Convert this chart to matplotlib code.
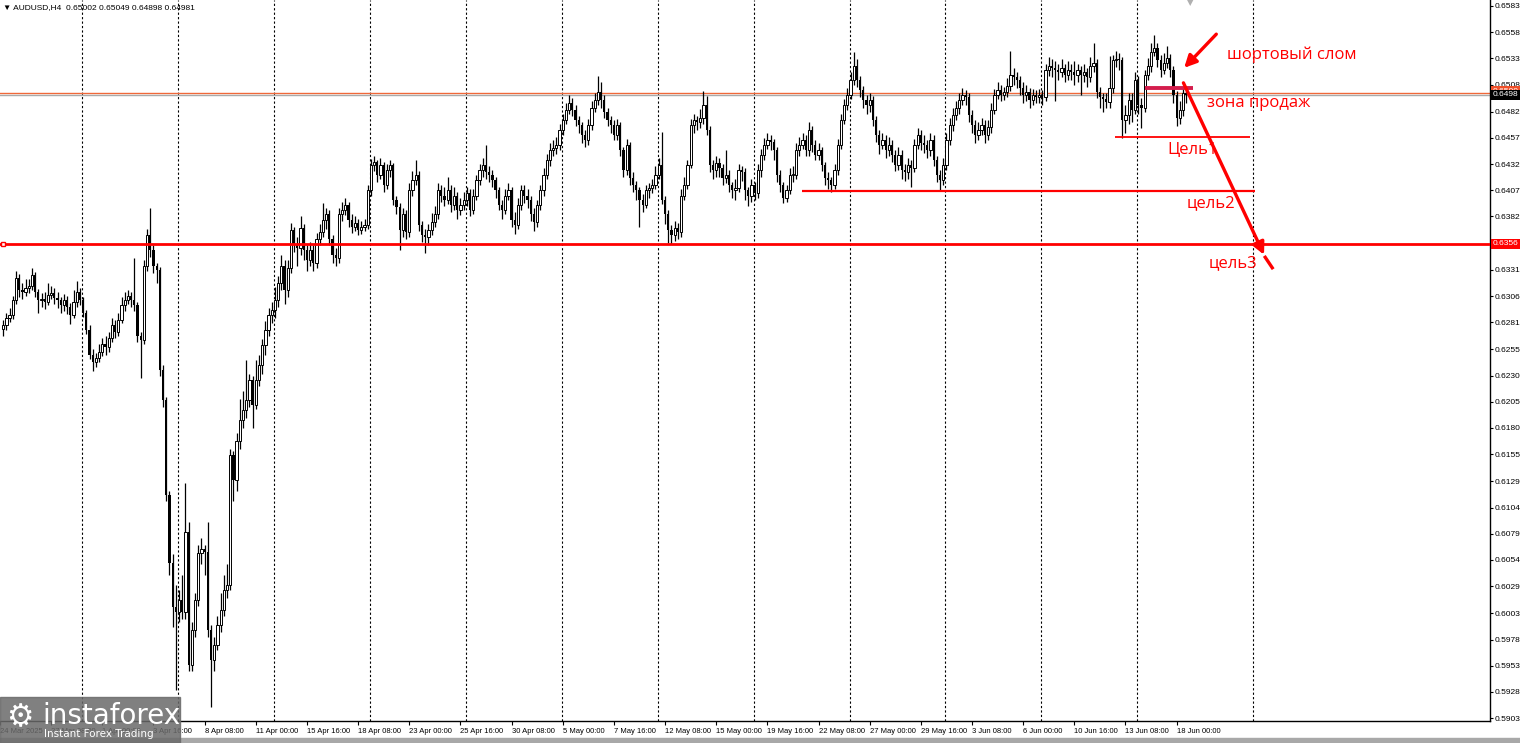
import numpy as np
import matplotlib
matplotlib.use('Agg')
import matplotlib.pyplot as plt
from matplotlib.patches import Rectangle
import matplotlib.transforms as mtransforms

# AUDUSD H4, prices in pips (x 1e-4)
first_open = 6275
closes = [
	6278, 6285, 6288, 6302, 6323, 6312, 6310, 6314, 6316, 6326,
	6310, 6302, 6303, 6300, 6307, 6309, 6304, 6302, 6297, 6302,
	6296, 6288, 6300, 6310, 6302, 6290, 6274, 6250, 6243, 6247,
	6253, 6260, 6257, 6266, 6278, 6272, 6283, 6297, 6302, 6306,
	6302, 6297, 6268, 6264, 6335, 6364, 6350, 6335, 6331, 6235,
	6207, 6116, 6051, 6009, 6004, 6016, 6004, 6081, 5954, 5987,
	6016, 6061, 6064, 6062, 5987, 5958, 5973, 5992, 6006, 6025,
	6030, 6154, 6130, 6168, 6188, 6197, 6207, 6226, 6202, 6226,
	6240, 6259, 6274, 6288, 6293, 6302, 6318, 6335, 6312, 6333,
	6369, 6355, 6352, 6371, 6350, 6340, 6350, 6338, 6360, 6367,
	6379, 6384, 6360, 6345, 6342, 6384, 6388, 6393, 6379, 6372,
	6376, 6369, 6372, 6374, 6407, 6431, 6434, 6422, 6431, 6412,
	6426, 6431, 6398, 6391, 6369, 6384, 6367, 6407, 6417, 6422,
	6374, 6364, 6362, 6369, 6377, 6384, 6407, 6402, 6398, 6407,
	6393, 6402, 6388, 6393, 6398, 6404, 6388, 6402, 6417, 6426,
	6431, 6424, 6422, 6417, 6407, 6393, 6388, 6402, 6407, 6379,
	6374, 6393, 6407, 6402, 6398, 6384, 6377, 6393, 6407, 6422,
	6436, 6445, 6447, 6450, 6465, 6474, 6484, 6490, 6484, 6474,
	6469, 6460, 6455, 6469, 6486, 6493, 6501, 6493, 6482, 6474,
	6469, 6460, 6469, 6445, 6426, 6450, 6419, 6412, 6407, 6398,
	6393, 6407, 6409, 6412, 6422, 6431, 6398, 6384, 6369, 6364,
	6371, 6367, 6402, 6412, 6431, 6469, 6474, 6472, 6476, 6488,
	6465, 6431, 6426, 6433, 6428, 6419, 6422, 6412, 6407, 6409,
	6426, 6424, 6407, 6402, 6412, 6404, 6426, 6441, 6450, 6455,
	6453, 6445, 6422, 6412, 6400, 6407, 6422, 6422, 6445, 6450,
	6455, 6445, 6465, 6450, 6441, 6445, 6431, 6419, 6417, 6412,
	6426, 6450, 6474, 6488, 6498, 6512, 6526, 6512, 6503, 6493,
	6488, 6493, 6474, 6460, 6450, 6455, 6445, 6450, 6441, 6431,
	6441, 6426, 6424, 6431, 6428, 6450, 6460, 6452, 6450, 6445,
	6455, 6436, 6422, 6417, 6431, 6455, 6469, 6479, 6486, 6493,
	6498, 6496, 6479, 6469, 6460, 6465, 6469, 6460, 6467, 6484,
	6498, 6503, 6498, 6501, 6507, 6517, 6515, 6512, 6505, 6498,
	6501, 6493, 6498, 6496, 6498, 6496, 6522, 6526, 6524, 6522,
	6520, 6524, 6517, 6522, 6520, 6517, 6522, 6517, 6520, 6515,
	6526, 6529, 6501, 6496, 6494, 6491, 6505, 6531, 6532, 6531,
	6474, 6479, 6493, 6484, 6512, 6488, 6486, 6517, 6526, 6539,
	6543, 6531, 6522, 6529, 6533, 6522, 6498, 6476, 6484, 6500,
	6498,
]
highs = [
	6283, 6290, 6295, 6306, 6330, 6327, 6318, 6322, 6322, 6333,
	6329, 6313, 6309, 6310, 6318, 6316, 6314, 6310, 6305, 6308,
	6306, 6299, 6312, 6320, 6314, 6305, 6293, 6278, 6255, 6252,
	6260, 6266, 6268, 6272, 6285, 6283, 6290, 6305, 6310, 6312,
	6310, 6342, 6300, 6272, 6340, 6370, 6390, 6355, 6338, 6334,
	6240, 6210, 6120, 6060, 6030, 6025, 6040, 6127, 6090, 5995,
	6022, 6068, 6075, 6068, 6090, 5992, 5980, 6000, 6022, 6040,
	6050, 6160, 6158, 6175, 6208, 6215, 6245, 6232, 6230, 6245,
	6250, 6265, 6282, 6295, 6300, 6315, 6325, 6345, 6340, 6340,
	6376, 6372, 6362, 6382, 6375, 6355, 6358, 6355, 6366, 6375,
	6395, 6390, 6388, 6364, 6352, 6390, 6396, 6400, 6396, 6384,
	6382, 6380, 6378, 6380, 6412, 6437, 6440, 6436, 6438, 6434,
	6432, 6436, 6433, 6402, 6395, 6390, 6388, 6414, 6425, 6436,
	6425, 6378, 6370, 6375, 6385, 6392, 6414, 6412, 6410, 6420,
	6412, 6410, 6405, 6400, 6405, 6410, 6408, 6408, 6422, 6432,
	6438, 6450, 6430, 6426, 6420, 6410, 6398, 6408, 6414, 6410,
	6386, 6400, 6412, 6412, 6408, 6402, 6390, 6398, 6412, 6428,
	6442, 6452, 6455, 6458, 6470, 6480, 6490, 6498, 6495, 6488,
	6478, 6472, 6465, 6475, 6492, 6500, 6516, 6510, 6498, 6486,
	6478, 6474, 6475, 6472, 6448, 6456, 6453, 6424, 6416, 6410,
	6403, 6412, 6414, 6418, 6430, 6438, 6463, 6402, 6388, 6374,
	6378, 6376, 6408, 6420, 6436, 6475, 6480, 6478, 6485, 6502,
	6497, 6468, 6436, 6440, 6438, 6432, 6445, 6426, 6415, 6418,
	6432, 6430, 6428, 6410, 6418, 6415, 6432, 6446, 6457, 6462,
	6460, 6456, 6448, 6426, 6415, 6412, 6428, 6430, 6452, 6458,
	6462, 6460, 6472, 6468, 6455, 6452, 6448, 6434, 6424, 6420,
	6432, 6456, 6480, 6494, 6505, 6520, 6539, 6532, 6516, 6507,
	6498, 6500, 6497, 6478, 6465, 6462, 6460, 6458, 6455, 6445,
	6448, 6445, 6432, 6438, 6436, 6456, 6466, 6465, 6460, 6455,
	6462, 6460, 6440, 6426, 6438, 6462, 6476, 6486, 6492, 6500,
	6505, 6503, 6500, 6484, 6474, 6472, 6476, 6474, 6474, 6490,
	6504, 6510, 6508, 6506, 6514, 6540, 6524, 6520, 6516, 6510,
	6508, 6505, 6504, 6503, 6504, 6503, 6528, 6534, 6532, 6530,
	6528, 6532, 6528, 6530, 6528, 6530, 6528, 6526, 6528, 6524,
	6534, 6548, 6532, 6506, 6500, 6500, 6535, 6536, 6540, 6538,
	6534, 6488, 6500, 6500, 6520, 6516, 6495, 6522, 6533, 6548,
	6555, 6548, 6536, 6538, 6545, 6537, 6526, 6502, 6492, 6505,
	6505,
]
lows = [
	6268, 6274, 6281, 6284, 6298, 6305, 6303, 6306, 6309, 6312,
	6305, 6290, 6296, 6294, 6297, 6303, 6298, 6295, 6290, 6292,
	6289, 6279, 6285, 6296, 6297, 6286, 6270, 6246, 6234, 6238,
	6243, 6249, 6250, 6253, 6262, 6266, 6268, 6280, 6292, 6298,
	6296, 6292, 6262, 6228, 6260, 6330, 6343, 6328, 6318, 6230,
	6200, 6110, 6040, 5990, 5930, 5995, 5998, 5998, 5948, 5948,
	5980, 6010, 6050, 6040, 5980, 5914, 5948, 5968, 5985, 6000,
	6018, 6025, 6110, 6120, 6160, 6180, 6190, 6200, 6180, 6198,
	6220, 6232, 6250, 6268, 6280, 6285, 6296, 6312, 6298, 6305,
	6328, 6348, 6335, 6345, 6340, 6330, 6335, 6330, 6333, 6355,
	6362, 6370, 6355, 6338, 6335, 6338, 6378, 6383, 6372, 6366,
	6368, 6364, 6365, 6368, 6370, 6402, 6425, 6415, 6418, 6405,
	6408, 6420, 6393, 6384, 6350, 6362, 6360, 6362, 6402, 6412,
	6368, 6358, 6347, 6355, 6364, 6372, 6380, 6396, 6392, 6394,
	6386, 6388, 6380, 6383, 6388, 6392, 6382, 6384, 6398, 6412,
	6420, 6418, 6415, 6410, 6400, 6388, 6380, 6384, 6398, 6372,
	6365, 6370, 6388, 6395, 6390, 6378, 6368, 6372, 6388, 6402,
	6418, 6430, 6440, 6442, 6445, 6460, 6470, 6480, 6478, 6468,
	6462, 6452, 6448, 6450, 6465, 6482, 6488, 6486, 6476, 6468,
	6462, 6455, 6455, 6440, 6420, 6422, 6412, 6405, 6398, 6372,
	6386, 6390, 6400, 6404, 6408, 6418, 6394, 6375, 6357, 6356,
	6359, 6360, 6362, 6398, 6408, 6428, 6462, 6465, 6466, 6470,
	6460, 6424, 6418, 6420, 6420, 6412, 6414, 6405, 6400, 6398,
	6405, 6416, 6398, 6392, 6396, 6398, 6400, 6420, 6436, 6446,
	6445, 6436, 6415, 6405, 6395, 6396, 6403, 6415, 6418, 6440,
	6446, 6440, 6440, 6444, 6436, 6436, 6425, 6412, 6408, 6405,
	6408, 6422, 6446, 6470, 6484, 6494, 6508, 6506, 6496, 6486,
	6480, 6482, 6468, 6453, 6442, 6446, 6438, 6440, 6434, 6425,
	6426, 6418, 6416, 6418, 6410, 6424, 6446, 6445, 6443, 6438,
	6440, 6430, 6415, 6407, 6412, 6426, 6450, 6464, 6474, 6480,
	6488, 6488, 6472, 6462, 6452, 6455, 6460, 6452, 6455, 6462,
	6480, 6494, 6492, 6493, 6496, 6502, 6508, 6505, 6498, 6490,
	6492, 6486, 6488, 6490, 6490, 6488, 6492, 6516, 6515, 6492,
	6512, 6515, 6510, 6512, 6512, 6508, 6510, 6498, 6510, 6506,
	6510, 6520, 6495, 6486, 6482, 6486, 6486, 6500, 6525, 6522,
	6457, 6462, 6470, 6472, 6480, 6480, 6466, 6482, 6512, 6520,
	6535, 6525, 6515, 6518, 6524, 6515, 6490, 6468, 6470, 6478,
	6490,
]

price_ticks = [0.6583, 0.6558, 0.6533, 0.6508, 0.6482, 0.6457, 0.6432, 0.6407,
	0.6382, 0.6356, 0.6331, 0.6306, 0.6281, 0.6255, 0.6230, 0.6205, 0.6180,
	0.6155, 0.6129, 0.6104, 0.6079, 0.6054, 0.6029, 0.6003, 0.5978, 0.5953,
	0.5928, 0.5903]
date_labels = ['24 Mar 2025', '27 Mar 08:00', '1 Apr 00:00', '3 Apr 16:00',
	'8 Apr 08:00', '11 Apr 00:00', '15 Apr 16:00', '18 Apr 08:00',
	'23 Apr 00:00', '25 Apr 16:00', '30 Apr 08:00', '5 May 00:00',
	'7 May 16:00', '12 May 08:00', '15 May 00:00', '19 May 16:00',
	'22 May 08:00', '27 May 00:00', '29 May 16:00', '3 Jun 08:00',
	'6 Jun 00:00', '10 Jun 16:00', '13 Jun 08:00', '18 Jun 00:00']
date_bars = [-1 + 16 * k for k in range(len(date_labels))]

# levels drawn on the chart
level_3 = 0.6356
level_2 = 0.6406
level_1 = 0.64574
sell_zone = 0.6505
ask_line = 0.6500
bid_line = 0.6498

small = 'Liberation Sans'
W, H = 1520, 743
fig = plt.figure(figsize=(W / 100, H / 100), dpi=100)
ax = fig.add_axes([0, 22 / H, 1490 / W, 721 / H])

c = np.array(closes) / 1e4
o = np.array([first_open] + closes[:-1]) / 1e4
hi = np.array(highs) / 1e4
lo = np.array(lows) / 1e4
idx = np.arange(len(c))
up = c >= o
body_bot = np.minimum(o, c)
body_h = np.maximum(np.abs(c - o), 0.00008)

ax.vlines(idx, lo, hi, color='black', lw=0.9, zorder=2)
ax.bar(idx[up], body_h[up], bottom=body_bot[up], width=0.7, facecolor='white',
	edgecolor='black', lw=0.7, zorder=3)
ax.bar(idx[~up], body_h[~up], bottom=body_bot[~up], width=0.7, color='black',
	lw=0, zorder=3)

# weekly dotted grid
for gx in [24.7 + 30 * k for k in range(12)] + [390.9]:
	ax.axvline(gx, color='black', lw=0.8, ls=(0, (2, 2)), zorder=1)

ax.axhline(ask_line, color='#f0683a', lw=1, zorder=1)
ax.axhline(bid_line, color='#aaaaaa', lw=1, zorder=1)
ax.axhline(level_3, color='#ff0000', lw=2, zorder=4)
ax.plot([-0.2], [level_3], marker='s', ms=3, mfc='white', mec='red', zorder=5, clip_on=False)
ax.hlines(level_2, 249.7, 391.5, color='#ff0000', lw=1.6, zorder=4)
ax.hlines(level_1, 347.8, 390, color='#ff0000', lw=1.3, zorder=4)
ax.hlines(sell_zone, 357, 372, color='#d41d4d', lw=2.8, zorder=4)

ax.plot([394.7, 396.9], [0.6343, 0.6333], color='#ff0000', lw=2.4, zorder=5)
ax.annotate('', xy=(394.7, 0.6343), xytext=(368.75, 0.6512),
	arrowprops=dict(arrowstyle='-|>', color='#ff0000', lw=2.4, mutation_scale=18), zorder=5)
ax.annotate('', xy=(368.75, 0.6522), xytext=(380, 0.6558),
	arrowprops=dict(arrowstyle='-|>', color='#ff0000', lw=2.4, mutation_scale=18), zorder=5)

tfont = dict(color='#ff0000', fontsize=12, family='Open Sans', va='center', ha='left', zorder=6)
ax.text(382.8, 0.6536, 'шортовый слом', **tfont)
ax.text(376.6, 0.6490, 'зона продаж', **tfont)
ax.text(364, 0.64455, 'Цель1', **tfont)
ax.text(370, 0.6395, 'цель2', **tfont)
ax.text(376.9, 0.63376, 'цель3', **tfont)

ax.set_xlim(-0.625, 465)
ax.set_ylim(0.59002, 0.65887)
for s in ['top', 'left']:
	ax.spines[s].set_visible(False)
ax.spines['right'].set_linewidth(1)
ax.spines['bottom'].set_linewidth(1)

ax.yaxis.tick_right()
ax.set_yticks(price_ticks)
ax.set_yticklabels([f'{v:.4f}' for v in price_ticks], family=small)
ax.tick_params(axis='y', length=2.5, labelsize=6, pad=1)
ax.set_xticks(date_bars)
ax.set_xticklabels(date_labels, family=small)
for lbl in ax.get_xticklabels():
	lbl.set_ha('left')
ax.tick_params(axis='x', length=3, labelsize=5.5, pad=2)

# price boxes on the right scale
tr = mtransforms.blended_transform_factory(ax.transAxes, ax.transData)
box = dict(boxstyle='square,pad=0.2', lw=0)
ax.text(1.002, 0.65012, '0.6500', transform=tr, fontsize=6, family=small, color='white',
	va='center', bbox=dict(box, fc='#f0502a'), clip_on=False, zorder=6)
ax.text(1.002, bid_line, '0.6498', transform=tr, fontsize=6, family=small, color='white',
	va='center', bbox=dict(box, fc='black'), clip_on=False, zorder=7)
ax.text(1.002, level_3, '0.6356', transform=tr, fontsize=6, family=small, color='white',
	va='center', bbox=dict(box, fc='#ff0000'), clip_on=False, zorder=7)

fig.text(3 / W, 1 - 8 / H, '▼ AUDUSD,H4  0.65002 0.65049 0.64898 0.64981', fontsize=6,
	family=small, va='center')
fig.text(1190 / W, 1 - 3 / H, '▼', fontsize=6, color='#b0b0b0', ha='center', va='center')

# bottom band and watermark
fig.patches.append(Rectangle((0, 0), 1, 5 / H, transform=fig.transFigure, color='#a8a8a8', zorder=5))
fig.patches.append(Rectangle((0, 0), 180 / W, 46 / H, transform=fig.transFigure,
	color='#6a6a6a', alpha=0.85, zorder=6))
fig.text(6 / W, 1 - 718 / H, '⚙', fontsize=22, color='white', va='center', zorder=7)
fig.text(42 / W, 1 - 716 / H, 'instaforex', fontsize=20, color='white', va='center', zorder=7)
fig.text(44 / W, 1 - 734 / H, 'Instant Forex Trading', fontsize=7.5, color='white', va='center', zorder=7)

fig.savefig('out.png', dpi=100, facecolor='white')
